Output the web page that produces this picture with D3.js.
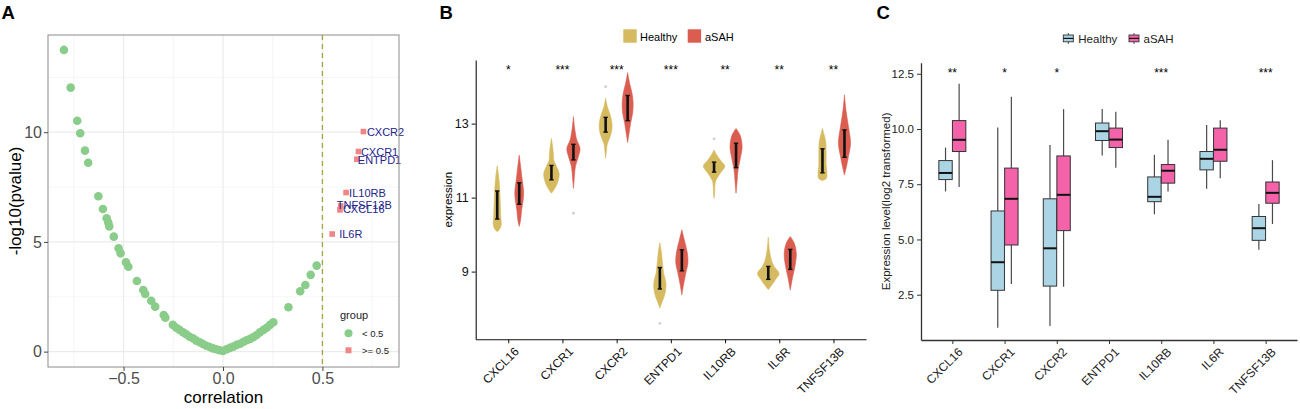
<!DOCTYPE html>
<html lang="en">
<head>
<meta charset="UTF-8">
<title>correlation / violin / box</title>
<script src="https://cdn.jsdelivr.net/npm/d3@7"></script>
<style>
    body, html { margin: 0; padding: 0; background: #fff; overflow: hidden; }
    svg { display: block; font-family: "Liberation Sans", Arial, sans-serif; }
</style>
</head>
<body>
<svg id="mainsvg" width="1300" height="409"></svg>
<script>
// ---------- data ----------
const genes = ["CXCL16", "CXCR1", "CXCR2", "ENTPD1", "IL10RB", "IL6R", "TNFSF13B"];

// panel A: correlation vs -log10(p)
const lowCorr = [-0.80, -0.766, -0.733, -0.718, -0.694, -0.678, -0.627, -0.604, -0.585, -0.577, -0.572,
    -0.549, -0.525, -0.515, -0.488, -0.476, -0.433, -0.401, -0.391, -0.361, -0.341, -0.298, -0.290,
    -0.252, -0.235, -0.218, -0.201, -0.185, -0.168, -0.151, -0.134, -0.117, -0.101, -0.084, -0.067,
    -0.050, -0.034, -0.017, 0.0, 0.018, 0.035, 0.052, 0.069, 0.086, 0.102, 0.119, 0.136, 0.153,
    0.169, 0.186, 0.203, 0.220, 0.236, 0.253, 0.329, 0.388, 0.414, 0.441, 0.471];
const lowLogP = [13.75, 12.03, 10.52, 9.95, 9.16, 8.61, 7.08, 6.50, 6.08, 5.88, 5.71,
    5.24, 4.71, 4.48, 4.07, 3.87, 3.22, 2.81, 2.63, 2.32, 2.05, 1.67, 1.55,
    1.22, 1.09, 0.99, 0.88, 0.79, 0.68, 0.61, 0.50, 0.43, 0.35, 0.27, 0.21,
    0.15, 0.11, 0.06, 0.03, 0.11, 0.17, 0.23, 0.31, 0.36, 0.44, 0.52, 0.58, 0.66,
    0.76, 0.88, 0.99, 1.09, 1.22, 1.34, 2.02, 2.75, 3.04, 3.50, 3.92];
const hitGenes = ["CXCR2", "CXCR1", "ENTPD1", "IL10RB", "TNFSF13B", "CXCL16", "IL6R"];
const hitCorr = [0.706, 0.681, 0.673, 0.619, 0.592, 0.588, 0.549];
const hitLogP = [10.03, 9.12, 8.77, 7.25, 6.64, 6.46, 5.36];

// panel B: violin outlines as [expression, relative density]
const violinHealthy = [
    [[11.86, 0], [11.57, 0.13], [11.21, 0.23], [10.85, 0.28], [10.49, 0.32], [10.26, 0.36], [10.13, 0.18], [10.08, 0]],
    [[12.6, 0], [12.4, 0.1], [12.2, 0.17], [12.0, 0.22], [11.85, 0.45], [11.65, 0.7], [11.45, 0.6], [11.3, 0.4], [11.18, 0.15], [11.12, 0]],
    [[13.69, 0], [13.5, 0.12], [13.37, 0.25], [13.2, 0.45], [13.0, 0.58], [12.8, 0.55], [12.6, 0.35], [12.45, 0.15], [12.29, 0.08], [12.06, 0]],
    [[9.78, 0], [9.5, 0.15], [9.2, 0.25], [8.95, 0.35], [8.7, 0.55], [8.45, 0.5], [8.25, 0.3], [8.1, 0.1], [8.01, 0]],
    [[12.29, 0], [12.15, 0.25], [12.0, 0.6], [11.85, 0.98], [11.75, 0.8], [11.61, 0.45], [11.45, 0.15], [11.3, 0.07], [11.1, 0.05], [10.98, 0]],
    [[9.93, 0], [9.6, 0.1], [9.35, 0.25], [9.15, 0.5], [8.95, 0.98], [8.8, 0.7], [8.65, 0.35], [8.51, 0]],
    [[12.87, 0], [12.7, 0.15], [12.5, 0.3], [12.2, 0.33], [11.9, 0.33], [11.65, 0.4], [11.52, 0.35], [11.46, 0]]
];
const violinASAH = [
    [[12.15, 0], [11.84, 0.13], [11.48, 0.27], [11.16, 0.4], [10.94, 0.36], [10.67, 0.22], [10.4, 0.13], [10.22, 0]],
    [[13.19, 0], [12.92, 0.09], [12.7, 0.2], [12.56, 0.3], [12.33, 0.6], [12.11, 0.45], [11.84, 0.18], [11.57, 0.09], [11.25, 0]],
    [[14.38, 0], [14.09, 0.18], [13.82, 0.4], [13.55, 0.5], [13.28, 0.45], [13.01, 0.27], [12.74, 0.13], [12.49, 0]],
    [[10.13, 0], [9.86, 0.22], [9.5, 0.5], [9.23, 0.55], [8.96, 0.36], [8.69, 0.18], [8.37, 0]],
    [[12.87, 0], [12.69, 0.36], [12.38, 0.55], [12.02, 0.36], [11.75, 0.18], [11.43, 0.09], [11.12, 0]],
    [[9.95, 0], [9.77, 0.36], [9.5, 0.55], [9.18, 0.45], [8.86, 0.22], [8.5, 0]],
    [[13.78, 0], [13.37, 0.13], [12.92, 0.36], [12.47, 0.55], [12.11, 0.36], [11.84, 0.18], [11.61, 0]]
];
const barHealthy = [[10.42, 11.18], [11.48, 11.87], [12.77, 13.17], [8.53, 9.11], [11.69, 11.96], [8.79, 9.14], [11.67, 12.32]];
const barASAH = [[10.82, 11.40], [12.02, 12.44], [13.08, 13.76], [9.02, 9.59], [11.81, 12.47], [9.06, 9.60], [12.09, 12.83]];
const violinOutliers = [["CXCR2", "Healthy", 14.0], ["CXCR1", "aSAH", 10.58], ["ENTPD1", "Healthy", 7.6], ["IL10RB", "Healthy", 12.59]];
const starsB = ["*", "***", "***", "***", "**", "**", "**"];

// panel C: boxplot [lower whisker, q1, median, q3, upper whisker]
const boxHealthy = [
    [7.17, 7.71, 8.01, 8.57, 9.16], [1.01, 2.70, 3.97, 6.29, 10.07], [1.08, 2.89, 4.60, 6.84, 9.27],
    [8.80, 9.48, 9.90, 10.27, 10.91], [6.14, 6.71, 6.93, 7.83, 8.83], [7.30, 8.15, 8.65, 8.98, 10.18],
    [4.53, 4.96, 5.51, 6.04, 6.60]
];
const boxASAH = [
    [7.37, 8.98, 9.51, 10.38, 12.05], [2.98, 4.75, 6.84, 8.23, 11.46], [2.86, 5.40, 7.02, 8.78, 10.90],
    [8.25, 9.16, 9.52, 10.04, 10.78], [7.17, 7.55, 8.11, 8.39, 9.51], [7.77, 8.54, 9.06, 10.04, 10.40],
    [5.70, 6.64, 7.11, 7.60, 8.59]
];
const starsC = ["**", "*", "*", "", "***", "", "***"];

// ---------- drawing ----------
const svg = d3.select('#mainsvg');
svg.append('rect').attr('width', 1300).attr('height', 409).attr('fill', '#fff');

function panelTitle(t, x) {
    svg.append('text').attr('x', x).attr('y', 18.5).attr('font-size', '18.5px')
        .attr('font-weight', 'bold').text(t);
}
panelTitle('A', 1.5);
panelTitle('B', 439.5);
panelTitle('C', 876.5);

// ===== panel A =====
const aLeft = 48, aRight = 399, aTop = 35, aBottom = 367;
const ax = d3.scaleLinear().domain([-0.88, 0.885]).range([aLeft, aRight]);
const ay = d3.scaleLinear().domain([-0.7, 14.43]).range([aBottom, aTop]);
const gA = svg.append('g');

// grid
gA.selectAll('.vminor').data([-0.75, -0.25, 0.25, 0.75]).enter().append('line')
    .attr('x1', d => ax(d)).attr('x2', d => ax(d)).attr('y1', aTop).attr('y2', aBottom)
    .attr('stroke', '#f3f3f3').attr('stroke-width', 0.8);
gA.selectAll('.hminor').data([2.5, 7.5, 12.5]).enter().append('line')
    .attr('y1', d => ay(d)).attr('y2', d => ay(d)).attr('x1', aLeft).attr('x2', aRight)
    .attr('stroke', '#f3f3f3').attr('stroke-width', 0.8);
gA.selectAll('.vmajor').data([-0.5, 0, 0.5]).enter().append('line')
    .attr('x1', d => ax(d)).attr('x2', d => ax(d)).attr('y1', aTop).attr('y2', aBottom)
    .attr('stroke', '#ebebeb').attr('stroke-width', 1.2);
gA.selectAll('.hmajor').data([0, 5, 10]).enter().append('line')
    .attr('y1', d => ay(d)).attr('y2', d => ay(d)).attr('x1', aLeft).attr('x2', aRight)
    .attr('stroke', '#ebebeb').attr('stroke-width', 1.2);

// threshold line
gA.append('line').attr('x1', ax(0.5)).attr('x2', ax(0.5)).attr('y1', aTop).attr('y2', aBottom)
    .attr('stroke', '#a4a43c').attr('stroke-width', 1.3).attr('stroke-dasharray', '5,4');

// points
gA.selectAll('.low').data(lowCorr).enter().append('circle')
    .attr('cx', d => ax(d)).attr('cy', (d, i) => ay(lowLogP[i])).attr('r', 4.3)
    .attr('fill', '#8acd8a');
gA.selectAll('.hit').data(hitCorr).enter().append('rect')
    .attr('x', d => ax(d) - 2.8).attr('y', (d, i) => ay(hitLogP[i]) - 2.8)
    .attr('width', 5.6).attr('height', 5.6).attr('fill', '#ef8585');

// label nudges (repel-style offsets), kept apart from the data
const labelDx = { CXCR2: 3.5, CXCR1: 2.5, ENTPD1: 1, IL10RB: 3, TNFSF13B: -4, CXCL16: 3, IL6R: 7 };
const labelDy = { CXCR2: 0, CXCR1: 0, ENTPD1: 0.5, IL10RB: 0, TNFSF13B: -0.5, CXCL16: -0.5, IL6R: 0 };
gA.selectAll('.lab').data(hitGenes).enter().append('text')
    .attr('x', (d, i) => ax(hitCorr[i]) + labelDx[d])
    .attr('y', (d, i) => ay(hitLogP[i]) + labelDy[d] + 4)
    .attr('font-size', '11px').attr('fill', '#24248a').text(d => d);

// border
gA.append('rect').attr('x', aLeft).attr('y', aTop).attr('width', aRight - aLeft).attr('height', aBottom - aTop)
    .attr('fill', 'none').attr('stroke', '#8c8c8c').attr('stroke-width', 1);

// axes
const axA = gA.append('g').attr('transform', `translate(0,${aBottom})`)
    .call(d3.axisBottom(ax).tickValues([-0.5, 0, 0.5]).tickFormat(d3.format('.1f')).tickSize(4).tickPadding(2));
const ayA = gA.append('g').attr('transform', `translate(${aLeft},0)`)
    .call(d3.axisLeft(ay).tickValues([0, 5, 10]).tickSize(4).tickPadding(2));
[axA, ayA].forEach(g => {
    g.select('.domain').remove();
    g.selectAll('.tick line').attr('stroke', '#444');
    g.selectAll('.tick text').attr('font-size', '16px').attr('fill', '#4d4d4d')
        .attr('font-family', '"Liberation Sans", Arial, sans-serif');
});
gA.append('text').attr('x', (aLeft + aRight) / 2).attr('y', 403).attr('text-anchor', 'middle')
    .attr('font-size', '17px').text('correlation');
gA.append('text').attr('transform', `translate(21,${(aTop + aBottom) / 2}) rotate(-90)`)
    .attr('text-anchor', 'middle').attr('font-size', '17px').text('-log10(pvalue)');

// legend A
gA.append('text').attr('x', 340).attr('y', 319).attr('font-size', '11px').attr('fill', '#222').text('group');
gA.append('circle').attr('cx', 348.5).attr('cy', 333.3).attr('r', 4).attr('fill', '#8acd8a');
gA.append('rect').attr('x', 345.5).attr('y', 347.3).attr('width', 6).attr('height', 6).attr('fill', '#ef8585');
gA.append('text').attr('x', 362).attr('y', 336.8).attr('font-size', '9.5px').attr('fill', '#222').text('< 0.5');
gA.append('text').attr('x', 362).attr('y', 353.8).attr('font-size', '9.5px').attr('fill', '#222').text('>= 0.5');

// ===== panel B =====
const bLeft = 475.7, bRight = 866, bTop = 60, bBottom = 339.3;
const bx = d3.scalePoint().domain(genes).range([bLeft, bRight]).padding(0.6);
const by = d3.scaleLinear().domain([7.17, 14.72]).range([bBottom, bTop]);
const bw = d3.scaleLinear().domain([0, 1]).range([0, 11]);
const bColors = { Healthy: '#d5ba5f', aSAH: '#da5d50' };
const bShift = { Healthy: -11, aSAH: 11 };
const gB = svg.append('g');

function violinPath(center) {
    return d3.area()
        .y(d => by(d[0]))
        .x0(d => center - bw(d[1]))
        .x1(d => center + bw(d[1]))
        .curve(d3.curveCatmullRom.alpha(0.5));
}
genes.forEach((g, i) => {
    [['Healthy', violinHealthy[i], barHealthy[i]], ['aSAH', violinASAH[i], barASAH[i]]].forEach(([grp, prof, bar]) => {
        const c = bx(g) + bShift[grp];
        gB.append('path').attr('d', violinPath(c)(prof))
            .attr('fill', bColors[grp]).attr('stroke', bColors[grp]).attr('stroke-width', 0.6);
        gB.append('line').attr('x1', c).attr('x2', c).attr('y1', by(bar[0])).attr('y2', by(bar[1]))
            .attr('stroke', '#111').attr('stroke-width', 2.6);
        bar.forEach(v => gB.append('line').attr('x1', c - 2.2).attr('x2', c + 2.2)
            .attr('y1', by(v)).attr('y2', by(v)).attr('stroke', '#111').attr('stroke-width', 1.4));
    });
});
gB.selectAll('.out').data(violinOutliers).enter().append('circle')
    .attr('cx', d => bx(d[0]) + bShift[d[1]]).attr('cy', d => by(d[2])).attr('r', 1.4)
    .attr('fill', '#cfcfcf');

gB.selectAll('.starB').data(starsB).enter().append('text')
    .attr('x', (d, i) => bx(genes[i])).attr('y', 73.5).attr('text-anchor', 'middle')
    .attr('font-size', '12px').text(d => d);

const bxAxis = gB.append('g').attr('transform', `translate(0,${bBottom})`)
    .call(d3.axisBottom(bx).tickSize(4).tickSizeOuter(0));
const byAxis = gB.append('g').attr('transform', `translate(${bLeft},0)`)
    .call(d3.axisLeft(by).tickValues([9, 11, 13]).tickSize(4).tickSizeOuter(0).tickPadding(3));
[bxAxis, byAxis].forEach(g => {
    g.select('.domain').attr('stroke', '#111').attr('stroke-width', 1.1);
    g.selectAll('.tick line').attr('stroke', '#111');
    g.selectAll('.tick text').attr('font-size', '12.5px').attr('fill', '#111')
        .attr('font-family', '"Liberation Sans", Arial, sans-serif');
});
bxAxis.selectAll('.tick text').attr('font-size', '12px').attr('text-anchor', 'end')
    .attr('y', 0).attr('dy', '0.71em').attr('transform', 'translate(5,7) rotate(-45)');
gB.append('text').attr('transform', `translate(452,${(bTop + bBottom) / 2}) rotate(-90)`)
    .attr('text-anchor', 'middle').attr('font-size', '11.5px').text('expression');

// legend B
[['Healthy', 623.3, 640], ['aSAH', 687.7, 705]].forEach(([grp, kx, tx]) => {
    gB.append('rect').attr('x', kx).attr('y', 29.3).attr('width', 13.4).attr('height', 13.4)
        .attr('fill', bColors[grp]);
    gB.append('text').attr('x', tx).attr('y', 40.5).attr('font-size', '11px').text(grp);
});

// ===== panel C =====
const cLeft = 921, cRight = 1297, cTop = 62.7, cBottom = 340;
const cx = d3.scalePoint().domain(genes).range([cLeft, cRight]).padding(0.6);
const cy = d3.scaleLinear().domain([0.45, 13.0]).range([cBottom, cTop]);
const cColors = { Healthy: '#abd5e5', aSAH: '#f462a9' };
const cShift = { Healthy: -6.8, aSAH: 6.8 };
const boxW = 13.4;
const gC = svg.append('g');

function drawBox(g, c, s, fill, w) {
    g.append('line').attr('x1', c).attr('x2', c).attr('y1', cy(s[0])).attr('y2', cy(s[1]))
        .attr('stroke', '#4a4a4a').attr('stroke-width', 1.2);
    g.append('line').attr('x1', c).attr('x2', c).attr('y1', cy(s[3])).attr('y2', cy(s[4]))
        .attr('stroke', '#4a4a4a').attr('stroke-width', 1.2);
    g.append('rect').attr('x', c - w / 2).attr('y', cy(s[3])).attr('width', w)
        .attr('height', cy(s[1]) - cy(s[3])).attr('fill', fill)
        .attr('stroke', '#333').attr('stroke-width', 1);
    g.append('line').attr('x1', c - w / 2).attr('x2', c + w / 2).attr('y1', cy(s[2])).attr('y2', cy(s[2]))
        .attr('stroke', '#111').attr('stroke-width', 2);
}
genes.forEach((g, i) => {
    drawBox(gC, cx(g) + cShift.Healthy, boxHealthy[i], cColors.Healthy, boxW);
    drawBox(gC, cx(g) + cShift.aSAH, boxASAH[i], cColors.aSAH, boxW);
});

gC.selectAll('.starC').data(starsC).enter().append('text')
    .attr('x', (d, i) => cx(genes[i])).attr('y', 77).attr('text-anchor', 'middle')
    .attr('font-size', '12px').text(d => d);

const cxAxis = gC.append('g').attr('transform', `translate(0,${cBottom})`)
    .call(d3.axisBottom(cx).tickSize(4).tickSizeOuter(0));
const cyAxis = gC.append('g').attr('transform', `translate(${cLeft},0)`)
    .call(d3.axisLeft(cy).tickValues([2.5, 5, 7.5, 10, 12.5]).tickFormat(d3.format('.1f'))
        .tickSize(4).tickSizeOuter(0).tickPadding(3));
[cxAxis, cyAxis].forEach(g => {
    g.select('.domain').attr('stroke', '#333').attr('stroke-width', 1.3);
    g.selectAll('.tick line').attr('stroke', '#333');
    g.selectAll('.tick text').attr('font-size', '11.5px').attr('fill', '#222')
        .attr('font-family', '"Liberation Sans", Arial, sans-serif');
});
cxAxis.selectAll('.tick text').attr('font-size', '12px').attr('text-anchor', 'end')
    .attr('y', 0).attr('dy', '0.71em').attr('transform', 'translate(4.5,6.7) rotate(-45)');
gC.append('text').attr('transform', `translate(890,${(cTop + cBottom) / 2}) rotate(-90)`)
    .attr('text-anchor', 'middle').attr('font-size', '11.5px').attr('fill', '#222')
    .text('Expression level(log2 transformed)');

// legend C (mini boxplot keys)
[['Healthy', 1068.3, 1078.3], ['aSAH', 1134, 1143.5]].forEach(([grp, kx, tx]) => {
    gC.append('line').attr('x1', kx).attr('x2', kx).attr('y1', 33).attr('y2', 44)
        .attr('stroke', '#4a4a4a').attr('stroke-width', 1);
    gC.append('rect').attr('x', kx - 5).attr('y', 35).attr('width', 10).attr('height', 6.8)
        .attr('fill', cColors[grp]).attr('stroke', '#333').attr('stroke-width', 0.9);
    gC.append('line').attr('x1', kx - 5).attr('x2', kx + 5).attr('y1', 38.4).attr('y2', 38.4)
        .attr('stroke', '#111').attr('stroke-width', 1.2);
    gC.append('text').attr('x', tx).attr('y', 43).attr('font-size', '11.5px').attr('fill', '#222').text(grp);
});
</script>
</body>
</html>
